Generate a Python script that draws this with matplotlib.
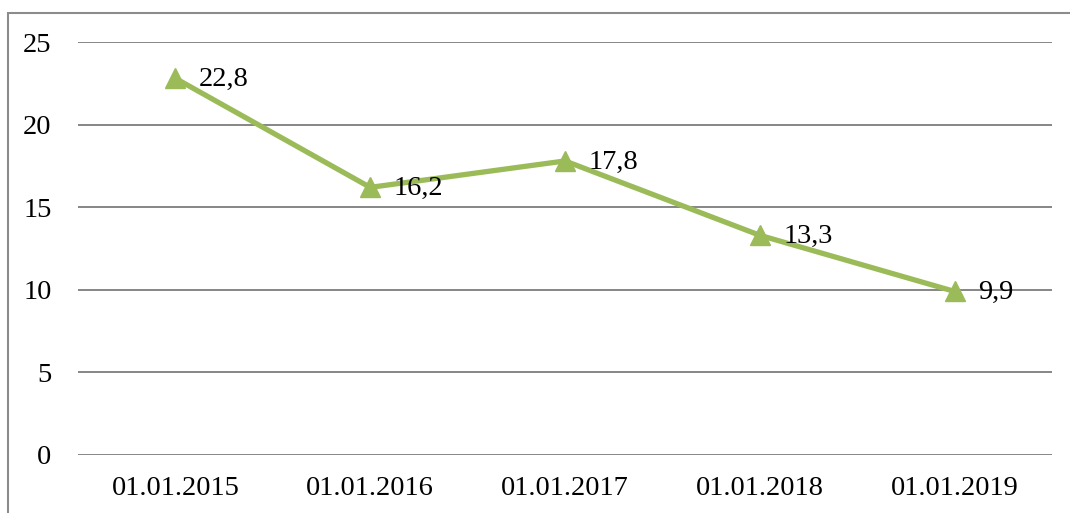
import matplotlib
matplotlib.use("Agg")
import matplotlib.pyplot as plt
from matplotlib.patches import Rectangle

categories = ["01.01.2015", "01.01.2016", "01.01.2017", "01.01.2018", "01.01.2019"]
values = [22.8, 16.2, 17.8, 13.3, 9.9]
value_labels = ["22,8", "16,2", "17,8", "13,3", "9,9"]
yticks = [0, 5, 10, 15, 20, 25]

plt.rcParams['font.family'] = ['Liberation Serif', 'DejaVu Serif']

fig = plt.figure(figsize=(10.7, 5.13), dpi=100)
ax = fig.add_axes([78/1070, 1-455/513, (1052-78)/1070, (455-42)/513])

x = list(range(len(categories)))
ax.plot(x, values, color='#9BBB59', linewidth=3.8, marker='^', markersize=14,
        markeredgecolor='#9BBB59', markerfacecolor='#9BBB59', zorder=3, clip_on=False)
for xi, v, lab in zip(x, values, value_labels):
    ax.annotate(lab, (xi, v), xytext=(17, -1), textcoords='offset points',
                ha='left', va='center', fontsize=20.5, color='black', zorder=4)

ax.set_xlim(-0.5, len(categories) - 0.5)
ax.set_ylim(0, 25)
ax.set_yticks(yticks)
ax.set_yticklabels([str(t) for t in yticks])
ax.set_xticks(x)
ax.set_xticklabels(categories)
ax.yaxis.grid(True, color='#868686', linewidth=1.4)
ax.set_axisbelow(True)
for s in ax.spines.values():
    s.set_visible(False)
ax.tick_params(axis='both', length=0, labelsize=20.5)
ax.tick_params(axis='y', pad=19)
ax.tick_params(axis='x', pad=15)

fig.patches.append(Rectangle((8/1070, -0.2), 1.2, 1.2 - 13/513 + 0.0,
                             transform=fig.transFigure, fill=False,
                             edgecolor='#8c8c8c', linewidth=1.5))

fig.savefig("out.png", dpi=100)
